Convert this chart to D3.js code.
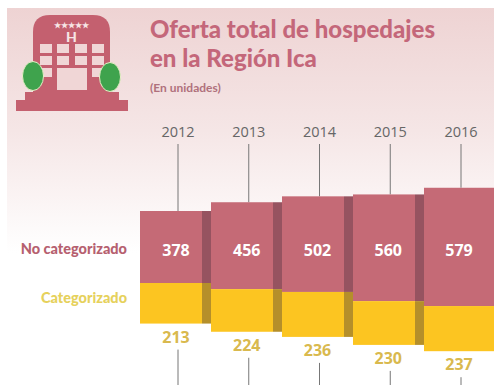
<!DOCTYPE html>
<html><head><meta charset="utf-8">
<script src="https://cdn.jsdelivr.net/npm/d3@7"></script>
<style>html,body{margin:0;padding:0;background:#fff}svg{display:block}text{font-family:Lato,sans-serif}</style>
</head><body><svg id="c" width="494" height="385"></svg>
<script>
const years = ["2012","2013","2014","2015","2016"];
const noCategorizado = [378,456,502,560,579];
const categorizado = [213,224,236,230,237];
// In data units: how far each floating stack is lifted or lowered
const stackDrop = [0,32,47,95,121];
const drawnExtra = [0,0,0,0,42];
const seriesLabels = ["No categorizado","Categorizado"];
const titleLines = ["Oferta total de hospedajes","en la Región Ica"];
const subtitle = "(En unidades)";

const W=494,H=385;
const svg=d3.select("#c");
const defs=svg.append("defs");
const g=defs.append("linearGradient").attr("id","bg").attr("x1",0).attr("y1",0).attr("x2",0).attr("y2",1);
g.append("stop").attr("offset",0).attr("stop-color","#eed3d3");
g.append("stop").attr("offset",0.5).attr("stop-color","#f5e6e6");
g.append("stop").attr("offset",1).attr("stop-color","#ffffff");
svg.append("rect").attr("x",7).attr("y",8).attr("width",W-7).attr("height",245).attr("fill","url(#bg)");

// hotel icon
const pink="#c4606f",paleWin="#f0d6d6";
const icon=svg.append("g");
icon.append("path").attr("d","M33 85V32Q33 15 50 15H93Q110 15 110 32V85Z").attr("fill",pink);
icon.append("rect").attr("x",25).attr("y",92).attr("width",94).attr("height",10).attr("fill",pink);
icon.append("rect").attr("x",33).attr("y",84).attr("width",78).attr("height",10).attr("fill",pink);
icon.append("rect").attr("x",16).attr("y",100).attr("width",112).attr("height",11).attr("fill",pink);
const winX=[40,57,75,92],winY=[44,56];
winY.forEach(y=>winX.forEach(x=>icon.append("rect").attr("x",x).attr("y",y).attr("width",12).attr("height",9).attr("fill",paleWin)));
[[40,68],[92,68]].forEach(([x,y])=>icon.append("rect").attr("x",x).attr("y",y).attr("width",12).attr("height",9).attr("fill",paleWin));
icon.append("rect").attr("x",57).attr("y",68).attr("width",30).attr("height",22).attr("fill",paleWin);
icon.append("text").attr("x",71.5).attr("y",28).attr("text-anchor","middle").attr("font-size",8).attr("fill","#f6e4e4").attr("font-weight",700).text("★★★★★");
icon.append("text").attr("x",71.5).attr("y",42).attr("text-anchor","middle").attr("font-size",14).attr("fill","#f6e4e4").attr("font-weight",900).text("H");
[[33,76],[110,77]].forEach(([x,y])=>{
  icon.append("ellipse").attr("cx",x).attr("cy",y).attr("rx",10.5).attr("ry",14.5).attr("fill","#3fa34d").attr("stroke","#e8efc8").attr("stroke-width",1);
});

const x=d3.scaleBand().domain(years).range([140,495]).padding(0);
const cx=d3.scalePoint().domain(years).range([178,461]);
const y=d3.scaleLinear().domain([0,378]).range([283,211]);

const rows=years.map((yr,i)=>({yr,nc:noCategorizado[i],c:categorizado[i],drop:stackDrop[i],extra:drawnExtra[i]}));
const yTop=d=>y(d.nc+d.extra-d.drop);
const yMid=d=>y(-d.drop);
const yBot=d=>y(-d.drop-d.c);

// upper and lower guide lines
svg.selectAll(".up").data(rows).join("line").attr("x1",d=>cx(d.yr)).attr("x2",d=>cx(d.yr))
  .attr("y1",144).attr("y2",d=>yTop(d)).attr("stroke","#777").attr("stroke-width",1);
svg.selectAll(".down").data(rows).join("line").attr("x1",d=>cx(d.yr)).attr("x2",d=>cx(d.yr))
  .attr("y1",d=>yBot(d)+26).attr("y2",H).attr("stroke","#777").attr("stroke-width",1);

const stripW=9;
const bars=svg.selectAll(".bar").data(rows).join("g");
bars.each(function(d,i){
  const s=d3.select(this),x0=x(d.yr),bw=x.bandwidth();
  const last=i===years.length-1;
  const frontW=last?bw:bw-stripW;
  if(!last){
    s.append("rect").attr("x",x0+frontW).attr("y",yTop(d)).attr("width",stripW).attr("height",yMid(d)-yTop(d)).attr("fill","#965360");
    s.append("rect").attr("x",x0+frontW).attr("y",yMid(d)).attr("width",stripW).attr("height",yBot(d)-yMid(d)).attr("fill","#b58f2a");
  }
  s.append("rect").attr("x",x0).attr("y",yTop(d)).attr("width",frontW).attr("height",yMid(d)-yTop(d)).attr("fill","#c56a76");
  s.append("rect").attr("x",x0).attr("y",yMid(d)).attr("width",frontW).attr("height",yBot(d)-yMid(d)).attr("fill","#fcc521");
});

const valFont="'Open Sans',sans-serif";
svg.selectAll(".yr").data(rows).join("text").attr("x",d=>cx(d.yr)).attr("y",137).attr("text-anchor","middle")
  .attr("font-size",14.5).attr("fill","#666").style("font-family",valFont).text(d=>d.yr);
svg.selectAll(".nc").data(rows).join("text").attr("x",d=>cx(d.yr)-2).attr("y",256).attr("text-anchor","middle")
  .attr("font-size",16).attr("font-weight",700).attr("fill","#fff").style("font-family",valFont).text(d=>d.nc);
svg.selectAll(".ca").data(rows).join("text").attr("x",d=>cx(d.yr)-2).attr("y",d=>yBot(d)+19).attr("text-anchor","middle")
  .attr("font-size",16).attr("font-weight",700).attr("fill","#d9b94e").style("font-family",valFont).text(d=>d.c);

svg.selectAll(".t").data(titleLines).join("text").attr("x",150).attr("y",(d,i)=>38+i*29)
  .attr("font-size",24).attr("font-weight",900).attr("fill","#c4677a").text(d=>d);
svg.append("text").attr("x",150).attr("y",92).attr("font-size",12).attr("font-weight",700).attr("fill","#b0717c").text(subtitle);
svg.selectAll(".s").data(seriesLabels).join("text").attr("x",127).attr("y",(d,i)=>254+i*49).attr("text-anchor","end")
  .attr("font-size",14.5).attr("font-weight",900).attr("fill",(d,i)=>i?"#e6d15c":"#b6606f").text(d=>d);
</script></body></html>
